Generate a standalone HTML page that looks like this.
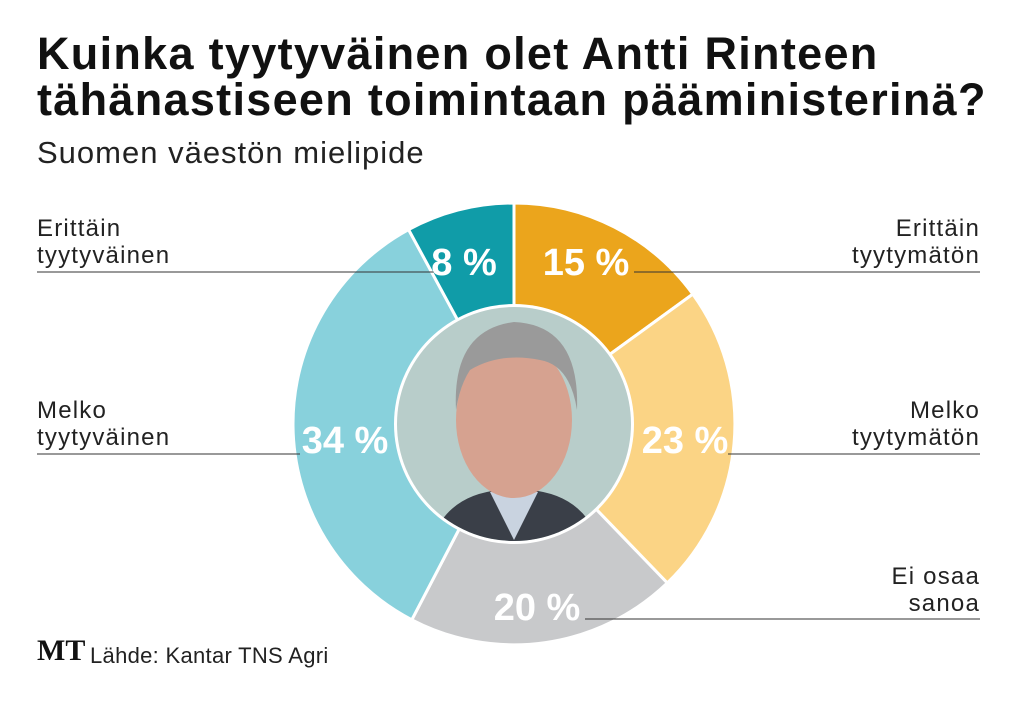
<!DOCTYPE html>
<html><head><meta charset="utf-8"><style>
body{margin:0;width:1019px;height:702px;background:#fff;overflow:hidden;font-family:"Liberation Sans",sans-serif;position:relative}
.t{position:absolute;left:37px;font-weight:bold;font-size:45px;color:#111;letter-spacing:1.3px;line-height:46px}
.l{position:absolute;font-size:24px;color:#222;line-height:27px;letter-spacing:1.2px}
</style></head><body>
<div class="t" style="top:31px">Kuinka tyytyväinen olet Antti Rinteen<br>tähänastiseen toimintaan pääministerinä?</div>
<div class="l" style="left:37px;top:136px;font-size:31px;line-height:34px;letter-spacing:1px">Suomen väestön mielipide</div>
<div class="l" style="left:37px;top:215px">Erittäin<br>tyytyväinen</div>
<div class="l" style="right:39px;top:215px;text-align:right">Erittäin<br>tyytymätön</div>
<div class="l" style="left:37px;top:397px">Melko<br>tyytyväinen</div>
<div class="l" style="right:39px;top:397px;text-align:right">Melko<br>tyytymätön</div>
<div class="l" style="right:39px;top:563px;text-align:right">Ei osaa<br>sanoa</div>
<div style="position:absolute;left:37px;top:634px;font-family:'Liberation Serif',serif;font-weight:bold;font-size:30px;color:#111">MT</div>
<div class="l" style="left:90px;top:642px;font-size:22px;letter-spacing:0.3px">Lähde: Kantar TNS Agri</div>
<svg width="1019" height="702" style="position:absolute;left:0;top:0">
<g stroke="#fff" stroke-width="3">
<path d="M514,424 L514.0,203.0 A221,221 0 0 1 692.8,294.1 Z" fill="#eba51c"/>
<path d="M514,424 L692.8,294.1 A221,221 0 0 1 667.3,583.0 Z" fill="#fbd485"/>
<path d="M514,424 L667.3,583.0 A221,221 0 0 1 411.8,619.8 Z" fill="#c8c9cb"/>
<path d="M514,424 L411.8,619.8 A221,221 0 0 1 408.6,229.6 Z" fill="#88d1dc"/>
<path d="M514,424 L408.6,229.6 A221,221 0 0 1 514,203 Z" fill="#109ca8"/>
</g>
<circle cx="514" cy="424" r="120" fill="#fff"/>
<circle cx="514" cy="424" r="117" fill="#b8cdca"/>
<clipPath id="c"><circle cx="514" cy="424" r="117"/></clipPath>
<g clip-path="url(#c)">
<path d="M430,545 Q445,495 500,490 L530,490 Q585,495 600,545 Z" fill="#3a3f48"/>
<path d="M490,492 L514,540 L538,492 Z" fill="#c9d3e0"/>
<ellipse cx="514" cy="420" rx="58" ry="78" fill="#d6a290"/>
<path d="M456,410 Q452,330 514,322 Q580,325 577,410 Q570,365 540,360 Q500,352 470,370 Q460,385 456,410 Z" fill="#9a9a9a"/>
</g>
<g stroke="#333" stroke-width="1">
<line x1="37" y1="272" x2="436" y2="272"/><line x1="634" y1="272" x2="980" y2="272"/>
<line x1="37" y1="454" x2="300" y2="454"/><line x1="728" y1="454" x2="980" y2="454"/>
<line x1="585" y1="619" x2="980" y2="619"/>
</g>
<g fill="#fff" font-weight="bold" font-size="38" text-anchor="middle" font-family="Liberation Sans, sans-serif">
<text x="464" y="275">8 %</text><text x="586" y="275">15 %</text>
<text x="685" y="453">23 %</text><text x="345" y="453">34 %</text>
<text x="537" y="620">20 %</text>
</g>
</svg>
</body></html>
